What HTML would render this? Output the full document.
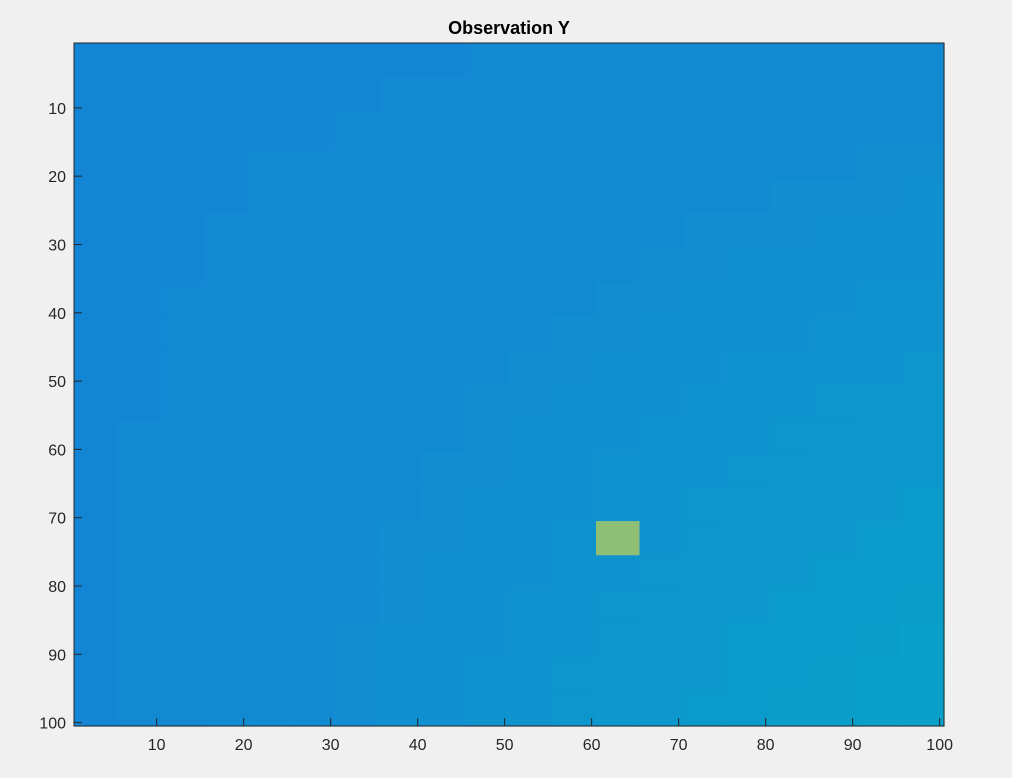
<!DOCTYPE html>
<html><head><meta charset="utf-8">
<style>
html,body{margin:0;padding:0;background:#f0f0f0;}
svg{display:block;font-family:"Liberation Sans",sans-serif;}
</style></head>
<body>
<svg id="chart" width="1012" height="778">
<text x="509" y="34" text-anchor="middle" font-size="18" font-weight="bold" fill="#000">Observation Y</text>
<g id="cells"></g>
<rect x="74" y="43" width="870" height="683" fill="none" stroke="#262626" stroke-width="1"/>
<g id="xaxis"></g>
<g id="yaxis"></g>
</svg>
<script>
// block-averaged values (each block = 5x5 data cells), percent of colour range
const blockRows = [
[25,25,25,25,25,25,25,25,25,26,26,26,26,26,26,26,26,26,26,26],
[25,25,25,25,25,25,25,26,26,26,26,26,26,26,26,26,26,27,27,27],
[25,25,25,25,25,25,26,26,26,26,26,26,26,26,27,27,27,27,27,27],
[25,25,25,25,26,26,26,26,26,26,26,26,27,27,27,27,27,27,28,28],
[25,25,25,25,27,26,26,26,26,26,26,27,27,27,27,27,28,28,28,29],
[25,25,25,26,26,26,26,26,26,26,27,27,27,27,28,28,28,29,29,29],
[25,25,25,26,26,26,26,26,27,27,27,27,27,28,28,29,29,29,29,29],
[25,25,26,26,26,26,26,27,27,27,27,27,28,28,29,29,29,29,30,30],
[25,25,26,26,26,26,26,27,27,27,27,28,28,29,29,29,29,30,30,30],
[25,25,26,26,26,26,27,27,27,27,28,28,29,29,29,30,30,30,30,31],
[25,25,26,26,26,26,27,27,27,28,28,29,29,29,30,30,30,31,31,32],
[25,26,26,26,26,27,27,27,27,28,29,29,29,30,30,30,31,31,32,32],
[25,26,26,26,26,27,27,27,28,28,29,29,30,30,30,31,31,32,32,32],
[25,26,26,26,26,27,27,27,28,29,29,29,30,30,31,31,32,32,32,33],
[25,26,26,26,27,27,27,28,28,29,29,30,62,30,31,32,32,32,33,33],
[25,26,26,26,27,27,27,28,29,29,29,30,30,31,32,32,32,33,33,33],
[25,26,26,26,27,27,27,28,29,29,30,30,31,31,32,32,33,33,33,34],
[25,26,26,26,27,27,28,29,29,29,30,30,31,32,32,33,33,33,34,35],
[25,26,26,27,27,27,28,29,29,30,30,31,32,32,32,33,33,34,35,35],
[25,26,26,27,27,27,28,29,29,30,30,31,32,32,33,33,34,34,35,35]
];
const blockSize = 5;
const xTicks = [10,20,30,40,50,60,70,80,90,100];
const yTicks = [10,20,30,40,50,60,70,80,90,100];

const L=74,R=944,T=43,B=726,N=100;
const cw=(R-L)/N, ch=(B-T)/N;
const xs = v => L + (v-0.5)*cw;
const ys = v => T + (v-0.5)*ch;
const parula=[[53,42,135],[3,99,225],[20,133,212],[6,167,198],[56,185,158],[146,191,115],[217,186,86],[252,206,46],[249,251,14]];
function color(p){
  let t=Math.max(0,Math.min(1,p/100))*(parula.length-1);
  let i=Math.min(parula.length-2,Math.floor(t)), f=t-i;
  const a=parula[i],b=parula[i+1];
  return `rgb(${a.map((x,k)=>Math.round(x+(b[k]-x)*f)).join(',')})`;
}
const NS="http://www.w3.org/2000/svg";
const cells=document.getElementById('cells');
blockRows.forEach((row,r)=>{
  row.forEach((v,c)=>{
    const el=document.createElementNS(NS,'rect');
    const x0=L+c*blockSize*cw, y0=T+r*blockSize*ch;
    el.setAttribute('x',x0.toFixed(2));
    el.setAttribute('y',y0.toFixed(2));
    el.setAttribute('width',(blockSize*cw+0.6).toFixed(2));
    el.setAttribute('height',(blockSize*ch+0.6).toFixed(2));
    el.setAttribute('fill',color(v));
    
    
    cells.appendChild(el);
  });
});
const xg=document.getElementById('xaxis');
xTicks.forEach(t=>{
  const x=xs(t);
  const ln=document.createElementNS(NS,'line');
  ln.setAttribute('x1',x);ln.setAttribute('x2',x);ln.setAttribute('y1',B);ln.setAttribute('y2',B-8);
  ln.setAttribute('stroke','#262626');
  
  
  xg.appendChild(ln);
  const tx=document.createElementNS(NS,'text');
  tx.setAttribute('x',x);tx.setAttribute('y',B+24);tx.setAttribute('text-anchor','middle');
  tx.setAttribute('font-size','16');tx.setAttribute('fill','#262626');
  tx.textContent=t;
  
  
  xg.appendChild(tx);
});
const yg=document.getElementById('yaxis');
yTicks.forEach(t=>{
  const y=ys(t);
  const ln=document.createElementNS(NS,'line');
  ln.setAttribute('x1',L);ln.setAttribute('x2',L+8);ln.setAttribute('y1',y);ln.setAttribute('y2',y);
  ln.setAttribute('stroke','#262626');
  
  
  yg.appendChild(ln);
  const tx=document.createElementNS(NS,'text');
  tx.setAttribute('x',L-8);tx.setAttribute('y',y+6);tx.setAttribute('text-anchor','end');
  tx.setAttribute('font-size','16');tx.setAttribute('fill','#262626');
  tx.textContent=t;
  
  
  yg.appendChild(tx);
});
</script>
</body></html>
